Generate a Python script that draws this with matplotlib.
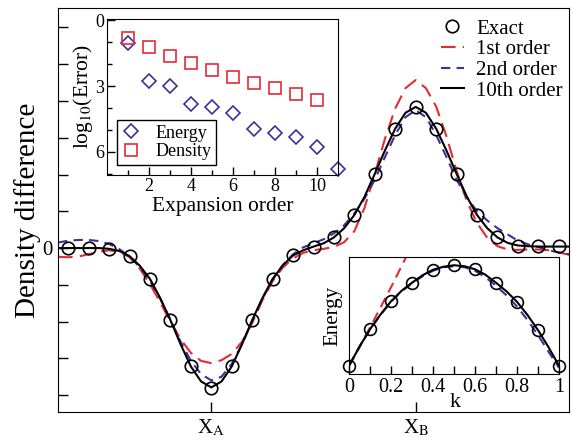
"""Density difference along a path, with convergence and band-energy insets."""

import numpy as np
from matplotlib import pyplot as plt
from matplotlib.ticker import MultipleLocator, FixedLocator, NullFormatter

plt.rcParams["font.family"] = ["Liberation Serif", "DejaVu Serif"]
plt.rcParams["mathtext.fontset"] = "stix"

RED = "#e52a33"
BLUE = "#3f2f9e"

# main panel: density difference curves, sampled every 0.2
x_line = np.linspace(0, 10, 51)
first_order = [-0.24, -0.25, -0.23, -0.17, -0.10, -0.06, -0.10, -0.25, -0.56, -0.98,
               -1.48, -2.00, -2.48, -2.85, -3.07, -3.13, -3.05, -2.88, -2.55, -2.04,
               -1.42, -0.90, -0.53, -0.28, -0.13, -0.06, -0.02, 0.03, 0.16, 0.46,
               1.10, 2.02, 2.98, 3.80, 4.35, 4.57, 4.35, 3.85, 3.05, 2.10,
               1.28, 0.68, 0.28, 0.05, -0.04, -0.05, -0.04, -0.04, -0.06, -0.12,
               -0.18]
second_order = [0.15, 0.20, 0.22, 0.22, 0.19, 0.11, -0.03, -0.23, -0.52, -0.90,
                -1.38, -1.95, -2.55, -3.07, -3.43, -3.60, -3.50, -3.15, -2.62, -2.00,
                -1.38, -0.86, -0.46, -0.17, 0.02, 0.13, 0.24, 0.40, 0.62, 0.94,
                1.35, 1.86, 2.48, 3.08, 3.56, 3.75, 3.56, 3.08, 2.48, 1.86,
                1.38, 1.00, 0.75, 0.54, 0.37, 0.20, 0.10, 0.03, -0.06, -0.12,
                -0.17]
tenth_order = [0.0, 0.0, 0.0, 0.0, 0.0, -0.02, -0.08, -0.22, -0.48, -0.84,
               -1.36, -1.96, -2.62, -3.22, -3.63, -3.79, -3.63, -3.22, -2.62, -1.96,
               -1.36, -0.84, -0.47, -0.20, -0.06, 0.04, 0.13, 0.29, 0.54, 0.90,
               1.40, 2.02, 2.66, 3.25, 3.68, 3.84, 3.68, 3.25, 2.66, 2.02,
               1.40, 0.90, 0.54, 0.29, 0.14, 0.07, 0.05, 0.04, 0.04, 0.04,
               0.04]
x_exact = np.linspace(0.2, 9.8, 25)
exact = [0.0, 0.0, -0.02, -0.22, -0.84, -1.96, -3.22, -3.80, -3.22, -1.96,
         -0.84, -0.20, 0.04, 0.29, 0.90, 2.02, 3.25, 3.84, 3.25, 2.02,
         0.90, 0.29, 0.06, 0.05, 0.05]
site_pos = [3, 7]
site_labels = [r"X$_\mathrm{A}$", r"X$_\mathrm{B}$"]

# top-left inset: log10 error against expansion order
order_energy = np.arange(1, 12)
log_err_energy = [-1.06, -2.77, -3.00, -3.83, -3.94, -4.24, -4.95, -5.12, -5.30, -5.76, -6.77]
order_density = np.arange(1, 11)
log_err_density = [-0.80, -1.21, -1.64, -1.97, -2.27, -2.58, -2.85, -3.10, -3.38, -3.64]

# bottom-right inset: energy band
k_exact = np.linspace(0, 1, 11)
energy_exact = [0.0, 0.363, 0.641, 0.826, 0.955, 1.0, 0.96, 0.826, 0.636, 0.355, 0.0]
k_line = np.linspace(0, 1, 21)
energy_tenth = [0.0, 0.19, 0.363, 0.51, 0.641, 0.745, 0.826, 0.90, 0.955, 0.985, 1.0,
                0.99, 0.96, 0.905, 0.826, 0.74, 0.636, 0.505, 0.355, 0.185, 0.0]
energy_second = [0.0, 0.185, 0.36, 0.505, 0.635, 0.74, 0.82, 0.89, 0.945, 0.98, 0.99,
                 0.98, 0.945, 0.88, 0.795, 0.70, 0.59, 0.455, 0.305, 0.14, -0.02]
k_first = np.linspace(0, 0.3, 7)
energy_first = [0.0, 0.19, 0.38, 0.58, 0.78, 0.99, 1.2]

fig = plt.figure(figsize=(5.72, 4.43), dpi=100)

# ---- main panel
ax = fig.add_axes([58 / 572, 1 - 412 / 443, 511 / 572, 404 / 443])
ax.plot(x_line, first_order, color=RED, lw=1.5, dashes=(7, 3.5), label="1st order")
ax.plot(x_line, second_order, color=BLUE, lw=1.5, dashes=(4.5, 3), label="2nd order")
ax.plot(x_line, tenth_order, color="black", lw=1.5, label="10th order")
ax.plot(x_exact, exact, "o", ms=9, mfc="none", mec="black", mew=1.2, label="Exact")
ax.set_xlim(0, 10)
ax.set_ylim(-4.46, 6.53)
ax.set_xticks(site_pos)
ax.set_xticklabels(site_labels)
ax.yaxis.set_major_locator(MultipleLocator(1))
ax.set_yticklabels(["0" if abs(v) < 1e-9 else "" for v in ax.get_yticks()])
ax.tick_params(direction="in", length=7, width=1, labelsize=15, pad=4)
ax.set_ylabel("Density difference", fontsize=21, va="center")
ax.yaxis.set_label_coords(-0.059, 0.5)
handles, labels = ax.get_legend_handles_labels()
order = [3, 0, 1, 2]
ax.legend([handles[i] for i in order], [labels[i] for i in order],
          loc="upper right", bbox_to_anchor=(1.0, 0.988), frameon=False,
          fontsize=15, handlelength=1.1, handletextpad=0.6,
          labelspacing=0.05, borderaxespad=0.1, borderpad=0.2)

# ---- error inset
ax1 = fig.add_axes([107 / 572, 1 - 175 / 443, 231 / 572, 156 / 443])
ax1.plot(order_energy, log_err_energy, "D", ms=7, mfc="none", mec=BLUE, mew=1.2,
         label="Energy", clip_on=False)
ax1.plot(order_density, log_err_density, "s", ms=8.5, mfc="none", mec=RED, mew=1.2,
         label="Density", clip_on=False)
ax1.set_xlim(0, 11)
ax1.set_ylim(-7.05, 0.05)
ax1.xaxis.set_major_locator(FixedLocator([2, 4, 6, 8, 10]))
ax1.xaxis.set_minor_locator(FixedLocator([1, 3, 5, 7, 9]))
ax1.yaxis.set_major_locator(FixedLocator([0, -3, -6]))
ax1.yaxis.set_minor_locator(FixedLocator([-1, -2, -4, -5, -7]))
ax1.set_yticklabels(["0", "3", "6"])
ax1.xaxis.set_minor_formatter(NullFormatter())
ax1.tick_params(which="major", direction="in", length=6, width=1, labelsize=13, pad=2)
ax1.tick_params(which="minor", direction="in", length=3.5, width=1)
ax1.set_xlabel("Expansion order", fontsize=15.5, va="center")
ax1.xaxis.set_label_coords(0.5, -0.205)
ax1.set_ylabel(r"log$_{10}$(Error)", fontsize=15.5, va="center")
ax1.yaxis.set_label_coords(-0.104, 0.5)
leg1 = ax1.legend(loc="lower left", bbox_to_anchor=(10 / 231, 10 / 156),
                  borderaxespad=0, fontsize=13, handlelength=1.0, handletextpad=0.9,
                  labelspacing=0.1, borderpad=0.25, fancybox=False,
                  edgecolor="black", framealpha=1)
leg1.get_frame().set_linewidth(1.0)

# ---- band inset
ax2 = fig.add_axes([349 / 572, 1 - 374 / 443, 210 / 572, 117 / 443])
ax2.plot(k_first, energy_first, color=RED, lw=1.5, dashes=(5, 3))
ax2.plot(k_line, energy_second, color=BLUE, lw=1.5, dashes=(4.5, 3))
ax2.plot(k_line, energy_tenth, color="black", lw=1.5)
ax2.plot(k_exact, energy_exact, "o", ms=8.5, mfc="none", mec="black", mew=1.2,
         clip_on=False)
ax2.set_xlim(0, 1)
ax2.set_ylim(-0.082, 1.082)
ax2.xaxis.set_major_locator(MultipleLocator(0.2))
ax2.xaxis.set_minor_locator(MultipleLocator(0.1))
ax2.xaxis.set_major_formatter(lambda v, p: f"{v:g}")
ax2.set_yticks([])
ax2.tick_params(which="both", direction="in", length=6, width=1, labelsize=14.5, pad=3)
ax2.set_xlabel("k", fontsize=16, va="center")
ax2.xaxis.set_label_coords(0.505, -0.24)
ax2.set_ylabel("Energy", fontsize=15, va="center")
ax2.yaxis.set_label_coords(-0.076, 0.5)

fig.savefig("out.png", dpi=100)
